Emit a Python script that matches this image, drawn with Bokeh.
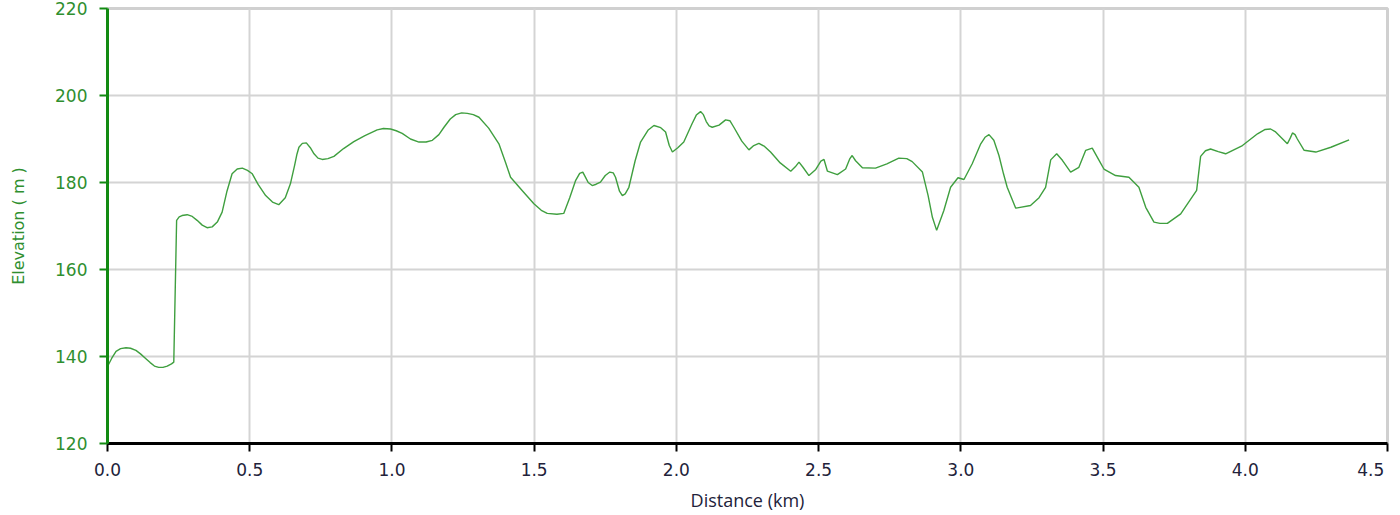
from bokeh.plotting import figure
from bokeh.models import FixedTicker, Range1d
from bokeh.embed import file_html
from bokeh.resources import INLINE

# ---- data ----
distance_km = [
    0.000, 0.015, 0.030, 0.046, 0.065, 0.081, 0.100, 0.116, 0.135, 0.150,
    0.165, 0.180, 0.195, 0.210, 0.225, 0.233, 0.243,
    0.252, 0.262, 0.280, 0.298, 0.315, 0.333, 0.350, 0.368, 0.386, 0.403,
    0.420, 0.438, 0.456, 0.474, 0.492, 0.509, 0.530, 0.556, 0.580, 0.602,
    0.625, 0.643, 0.658, 0.666, 0.673, 0.685, 0.699, 0.713, 0.726, 0.740,
    0.755, 0.775, 0.796, 0.830, 0.866, 0.905, 0.948, 0.970, 0.995, 1.015,
    1.036, 1.065, 1.095, 1.120, 1.142, 1.165, 1.183, 1.205, 1.224, 1.245,
    1.265, 1.286, 1.306, 1.340, 1.376, 1.400, 1.417, 1.460, 1.499, 1.525,
    1.546, 1.580, 1.604, 1.625, 1.646, 1.660, 1.671, 1.682, 1.690, 1.704,
    1.718, 1.733, 1.750, 1.766, 1.778, 1.786, 1.800, 1.810, 1.820, 1.833,
    1.855, 1.874, 1.900, 1.921, 1.945, 1.962, 1.975, 1.986, 2.005, 2.026,
    2.055, 2.070, 2.085, 2.095, 2.105, 2.115, 2.126, 2.150, 2.173, 2.188,
    2.202, 2.230, 2.255, 2.272, 2.290, 2.310, 2.331, 2.365, 2.402, 2.418,
    2.431, 2.445, 2.466, 2.490, 2.508, 2.519, 2.531, 2.566, 2.595, 2.610,
    2.618, 2.630, 2.654, 2.700, 2.740, 2.782, 2.810, 2.829, 2.865, 2.885,
    2.900, 2.915, 2.940, 2.964, 2.990, 3.011, 3.040, 3.070, 3.085, 3.099,
    3.116, 3.134, 3.150, 3.163, 3.193, 3.245, 3.275, 3.298, 3.316, 3.337,
    3.357, 3.386, 3.415, 3.439, 3.462, 3.486, 3.503, 3.544, 3.591, 3.626,
    3.650, 3.679, 3.700, 3.726, 3.773, 3.829, 3.843, 3.860, 3.878, 3.905,
    3.931, 3.990, 4.043, 4.070, 4.089, 4.105, 4.119, 4.148, 4.158, 4.166,
    4.175, 4.183, 4.207, 4.248, 4.301, 4.365,
]
elevation_m = [
    137.7, 139.6, 141.2, 141.8, 142.0, 141.9, 141.4, 140.6, 139.5, 138.6,
    137.8, 137.5, 137.5, 137.8, 138.3, 138.7, 171.3,
    172.1, 172.4, 172.6, 172.2, 171.3, 170.2, 169.6, 169.8, 170.9, 173.2,
    178.0, 182.0, 183.1, 183.3, 182.8, 182.0, 179.5, 177.0, 175.5, 174.9,
    176.5, 179.7, 184.0, 186.5, 188.1, 189.0, 189.1, 188.0, 186.6, 185.6,
    185.3, 185.5, 186.0, 187.8, 189.4, 190.8, 192.1, 192.4, 192.3, 191.9,
    191.3, 190.0, 189.3, 189.3, 189.7, 191.0, 192.7, 194.6, 195.6, 196.0,
    195.9, 195.6, 195.0, 192.5, 188.9, 184.5, 181.2, 178.0, 175.1, 173.6,
    172.9, 172.7, 172.9, 176.5, 180.5, 182.1, 182.4, 181.0, 180.0, 179.3,
    179.6, 180.1, 181.6, 182.4, 182.2, 181.2, 178.0, 177.0, 177.4, 178.9,
    185.0, 189.3, 192.0, 193.1, 192.6, 191.6, 188.5, 187.0, 188.0, 189.3,
    193.5, 195.5, 196.3, 195.6, 194.0, 193.0, 192.7, 193.2, 194.4, 194.2,
    192.7, 189.5, 187.5, 188.5, 189.0, 188.3, 187.0, 184.5, 182.6, 183.6,
    184.7, 183.5, 181.6, 183.0, 184.9, 185.3, 182.6, 181.8, 183.1, 185.5,
    186.2, 185.0, 183.4, 183.3, 184.3, 185.6, 185.5, 184.8, 182.4, 177.0,
    172.0, 169.0, 173.5, 178.9, 181.1, 180.7, 184.3, 188.9, 190.4, 191.0,
    189.7, 186.2, 182.0, 178.9, 174.1, 174.7, 176.5, 178.9, 185.2, 186.6,
    185.1, 182.4, 183.5, 187.4, 187.9, 185.1, 183.1, 181.6, 181.2, 178.9,
    174.3, 170.9, 170.6, 170.6, 172.8, 178.2, 186.0, 187.3, 187.7, 187.1,
    186.6, 188.5, 191.2, 192.2, 192.3, 191.7, 190.8, 188.9, 190.2, 191.4,
    191.0, 190.0, 187.4, 187.0, 188.1, 189.8,
]
x_ticks = [0.0, 0.5, 1.0, 1.5, 2.0, 2.5, 3.0, 3.5, 4.0, 4.5]
x_tick_labels = ["0.0", "0.5", "1.0", "1.5", "2.0", "2.5", "3.0", "3.5", "4.0", "4.5"]
y_ticks = [120, 140, 160, 180, 200, 220]
y_tick_labels = ["120", "140", "160", "180", "200", "220"]
x_title = "Distance (km)"
y_title = "Elevation ( m )"

GREEN_AXIS = "#128a12"
GREEN_TEXT = "#2f8f2f"
LINE_GREEN = "#3f9f3f"
DARK = "#22223a"
TICK_FONT = "DejaVu Sans"
NBSP = "\u00a0"

p = figure(width=1400, height=515, output_backend="svg", toolbar_location=None,
           x_range=Range1d(0, 4.5), y_range=Range1d(120, 220),
           min_border_left=107, min_border_right=13, min_border_top=8,
           min_border_bottom=72)
p.outline_line_color = "#d0d0d0"
p.outline_line_width = 3
p.background_fill_color = "white"
p.border_fill_color = "white"

p.line(distance_km, elevation_m, line_color=LINE_GREEN, line_width=1.4)

# grid
for g in (p.xgrid, p.ygrid):
    g.grid_line_color = "#d4d4d4"
    g.grid_line_width = 2
p.xgrid.ticker = FixedTicker(ticks=x_ticks)
p.ygrid.ticker = FixedTicker(ticks=y_ticks)

# x axis
xa = p.xaxis[0]
xa.ticker = FixedTicker(ticks=x_ticks)
xo = {t: l for t, l in zip(x_ticks, x_tick_labels)}
# last label shifted left (padded) so it stays inside the page
xo[x_ticks[-1]] = x_tick_labels[-1] + NBSP * 3
xa.major_label_overrides = xo
xa.axis_line_color = "black"
xa.axis_line_width = 3
xa.major_tick_line_color = "black"
xa.major_tick_line_width = 2
xa.major_tick_out = 8
xa.major_tick_in = 0
xa.minor_tick_line_color = None
xa.major_label_standoff = 8
xa.major_label_text_font = TICK_FONT
xa.major_label_text_font_size = "17px"
xa.major_label_text_color = DARK
xa.axis_label = x_title
xa.axis_label_text_font = "Open Sans"
xa.axis_label_text_font_style = "normal"
xa.axis_label_text_font_size = "18px"
xa.axis_label_text_color = DARK
xa.axis_label_standoff = 5

# y axis
ya = p.yaxis[0]
ya.ticker = FixedTicker(ticks=y_ticks)
ya.major_label_overrides = {t: l for t, l in zip(y_ticks, y_tick_labels)}
ya.axis_line_color = GREEN_AXIS
ya.axis_line_width = 3
ya.major_tick_line_color = GREEN_AXIS
ya.major_tick_line_width = 2
ya.major_tick_out = 8
ya.major_tick_in = 0
ya.minor_tick_line_color = None
ya.major_label_standoff = 12
ya.major_label_text_font = TICK_FONT
ya.major_label_text_font_size = "17px"
ya.major_label_text_color = GREEN_TEXT
ya.axis_label = y_title
ya.axis_label_text_font = TICK_FONT
ya.axis_label_text_font_style = "normal"
ya.axis_label_text_font_size = "16px"
ya.axis_label_text_color = GREEN_TEXT
ya.axis_label_standoff = 24

open("out.html", "w").write(file_html(p, INLINE))
